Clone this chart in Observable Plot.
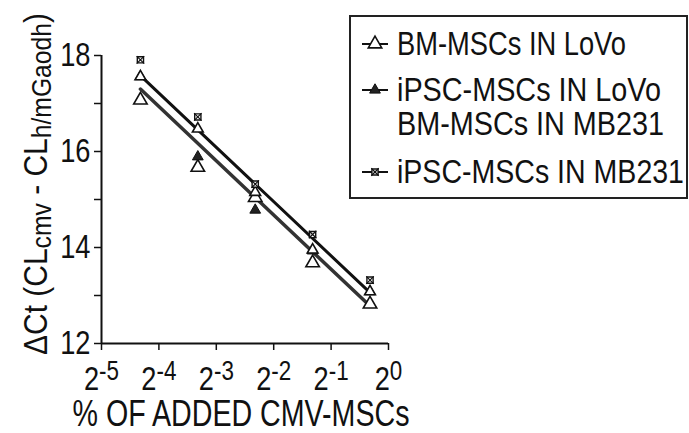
<!DOCTYPE html>
<html>
<head>
<meta charset="utf-8">
<script src="https://cdn.jsdelivr.net/npm/d3@7"></script>
<script src="https://cdn.jsdelivr.net/npm/@observablehq/plot@0.6"></script>
<style>
  body { margin: 0; background: #fff; }
  #chart { position: relative; width: 689px; height: 433px; }
</style>
</head>
<body>
<div id="chart"></div>
<script>
// Fraction of added CMV-MSCs (log2 axis)
const fractions = [0.05, 0.1, 0.2, 0.4, 0.8];

// ΔCt per series
const bmLoVo    = [17.07, 15.67, 15.04, 13.68, 12.82];
const ipscLoVo  = [17.56, 15.89, 14.78, 13.93, 13.08];
const bmMB231   = [17.56, 16.47, 15.15, 13.95, 13.08];
const ipscMB231 = [17.91, 16.72, 15.32, 14.27, 13.32];
const seriesNames = ["BM-MSCs IN LoVo", "iPSC-MSCs IN LoVo", "BM-MSCs IN MB231", "iPSC-MSCs IN MB231"];

// Fitted lines (endpoints of the two regressions)
const fitX = [0.05, 0.8];
const fitMB231 = [17.58, 13.06];
const fitLoVo  = [17.30, 12.78];

// Axis ticks
const xExponents = [-5, -4, -3, -2, -1, 0];
const yTicks = [12, 13, 14, 15, 16, 17, 18];

const FONT = "'Liberation Sans', Arial, Helvetica, sans-serif";
const CONDENSE = 0.8; // horizontal squeeze for a condensed look
const pts = (ys) => fractions.map((x, i) => ({x, y: ys[i]}));
const fit = (ys) => fitX.map((x, i) => ({x, y: ys[i]}));

const chart = Plot.plot({
  width: 689,
  height: 433,
  marginLeft: 101,
  marginRight: 301,
  marginTop: 55,
  marginBottom: 90,
  style: {fontFamily: FONT, fontSize: "34px", color: "#111", background: "#fff"},
  x: {type: "log", base: 2, domain: [2 ** -5, 1]},
  y: {domain: [12, 18]},
  marks: [
    Plot.ruleX([2 ** -5], {stroke: "#111", strokeWidth: 2}),
    Plot.ruleY([12], {stroke: "#111", strokeWidth: 2}),
    Plot.axisY({
      ticks: yTicks, tickSize: 7, tickPadding: 4, strokeWidth: 1.5,
      tickFormat: d => d % 2 ? "" : String(d), fontSize: 34, label: null
    }),
    Plot.axisX({
      ticks: xExponents.map(e => 2 ** e), tickSize: 7, tickPadding: 15, strokeWidth: 1.5,
      tickFormat: d => "2^" + Math.round(Math.log2(d)), fontSize: 34, label: null
    }),
    Plot.line(fit(fitLoVo), {x: "x", y: "y", stroke: "#333", strokeWidth: 3.5}),
    Plot.line(fit(fitMB231), {x: "x", y: "y", stroke: "#111", strokeWidth: 3}),
    Plot.dot(pts(bmLoVo), {x: "x", y: "y", symbol: "triangle", r: 5, fill: "#fff", stroke: "#111", strokeWidth: 1.6}),
    Plot.dot(pts(ipscLoVo), {x: "x", y: "y", symbol: "triangle", r: 4, fill: "#222", stroke: "#111", strokeWidth: 1}),
    Plot.dot(pts(bmMB231), {x: "x", y: "y", symbol: "triangle", r: 4, fill: "#fff", stroke: "#111", strokeWidth: 1.6}),
    Plot.dot(pts(ipscMB231), {x: "x", y: "y", symbol: "square", r: 3.5, fill: "#fff", stroke: "#111", strokeWidth: 1.4}),
    Plot.dot(pts(ipscMB231), {x: "x", y: "y", symbol: "times", r: 3.5, stroke: "#111", strokeWidth: 1.2})
  ]
});

document.getElementById("chart").appendChild(chart);
const svg = d3.select(chart);

// Powers of two: base with raised exponent
svg.selectAll('g[aria-label="x-axis tick label"] text').each(function () {
  const t = d3.select(this);
  const [base, exp] = t.text().split("^");
  t.text(null);
  t.append("tspan").text(base);
  t.append("tspan").attr("dy", -10).attr("font-size", 28).text(exp);
});

// Condense tick labels
svg.selectAll('g[aria-label$="tick label"] text').each(function () {
  const w = this.getComputedTextLength();
  if (w > 0) {
    this.setAttribute("textLength", (w * CONDENSE).toFixed(1));
    this.setAttribute("lengthAdjust", "spacingAndGlyphs");
  }
});

// Y-axis title with subscripts
const yTitle = svg.append("text")
  .attr("transform", "translate(47,184) rotate(-90)")
  .attr("text-anchor", "middle")
  .attr("font-family", FONT)
  .attr("font-size", 34)
  .attr("fill", "#111")
  .attr("textLength", 342)
  .attr("lengthAdjust", "spacingAndGlyphs");
yTitle.append("tspan").text("ΔCt (CL");
yTitle.append("tspan").attr("dy", 4).attr("font-size", 28).text("cmv");
yTitle.append("tspan").attr("dy", -4).text(" - CL");
yTitle.append("tspan").attr("dy", 4).attr("font-size", 28).text("h/mGaodh");
yTitle.append("tspan").attr("dy", -4).text(")");

// X-axis title
svg.append("text")
  .attr("x", 241).attr("y", 426)
  .attr("text-anchor", "middle")
  .attr("font-family", FONT)
  .attr("font-size", 36)
  .attr("fill", "#111")
  .attr("textLength", 337)
  .attr("lengthAdjust", "spacingAndGlyphs")
  .text("% OF ADDED CMV-MSCs");

// Legend
const legend = svg.append("g")
  .attr("font-family", FONT).attr("font-size", 34)
  .attr("fill", "#111").attr("text-anchor", "start");
legend.append("rect")
  .attr("x", 350).attr("y", 16).attr("width", 337).attr("height", 182)
  .attr("fill", "none").attr("stroke", "#222").attr("stroke-width", 2);

const rowBaselines = [55, 101, 135, 183];
const rowWidths = [229, 264, 267, 287];
const rowSymbols = [
  {type: d3.symbolTriangle, size: Math.PI * 25, fill: "#fff", sw: 1.6},
  {type: d3.symbolTriangle, size: Math.PI * 16, fill: "#222", sw: 1},
  null,
  {type: d3.symbolSquare, size: Math.PI * 12, fill: "#fff", sw: 1.4, cross: true}
];
seriesNames.forEach((name, i) => {
  const yb = rowBaselines[i];
  const ym = yb - 11;
  const s = rowSymbols[i];
  if (s) {
    legend.append("line").attr("x1", 362).attr("x2", 388).attr("y1", ym).attr("y2", ym)
      .attr("stroke", "#111").attr("stroke-width", 2);
    legend.append("path").attr("transform", `translate(375,${ym})`)
      .attr("d", d3.symbol(s.type, s.size)())
      .attr("fill", s.fill).attr("stroke", "#111").attr("stroke-width", s.sw);
    if (s.cross) {
      legend.append("path").attr("transform", `translate(375,${ym})`)
        .attr("d", d3.symbol(d3.symbolTimes, Math.PI * 12)())
        .attr("fill", "none").attr("stroke", "#111").attr("stroke-width", 1.2);
    }
  }
  legend.append("text").attr("x", 397).attr("y", yb)
    .attr("textLength", rowWidths[i]).attr("lengthAdjust", "spacingAndGlyphs")
    .text(name);
});
</script>
</body>
</html>
